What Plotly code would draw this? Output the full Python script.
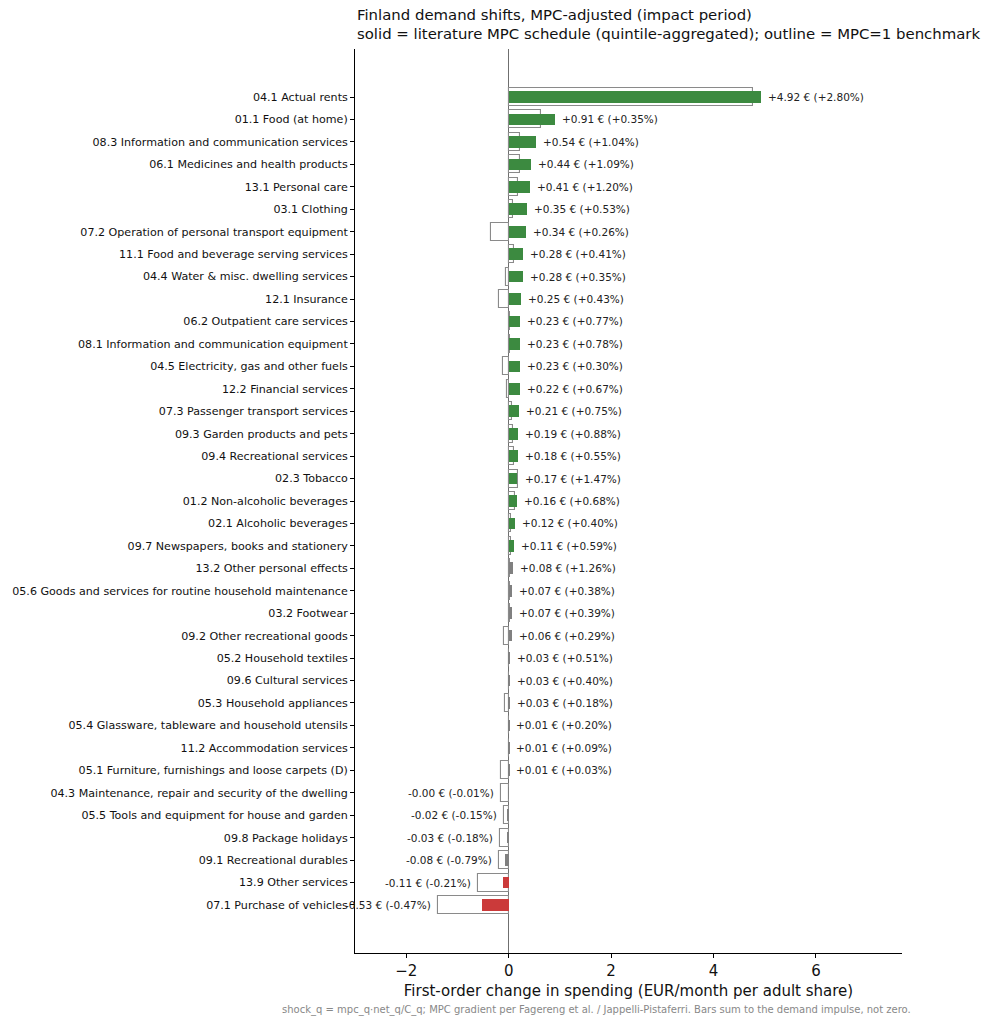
import plotly.graph_objects as go

categories = [
    "04.1 Actual rents",
    "01.1 Food (at home)",
    "08.3 Information and communication services",
    "06.1 Medicines and health products",
    "13.1 Personal care",
    "03.1 Clothing",
    "07.2 Operation of personal transport equipment",
    "11.1 Food and beverage serving services",
    "04.4 Water & misc. dwelling services",
    "12.1 Insurance",
    "06.2 Outpatient care services",
    "08.1 Information and communication equipment",
    "04.5 Electricity, gas and other fuels",
    "12.2 Financial services",
    "07.3 Passenger transport services",
    "09.3 Garden products and pets",
    "09.4 Recreational services",
    "02.3 Tobacco",
    "01.2 Non-alcoholic beverages",
    "02.1 Alcoholic beverages",
    "09.7 Newspapers, books and stationery",
    "13.2 Other personal effects",
    "05.6 Goods and services for routine household maintenance",
    "03.2 Footwear",
    "09.2 Other recreational goods",
    "05.2 Household textiles",
    "09.6 Cultural services",
    "05.3 Household appliances",
    "05.4 Glassware, tableware and household utensils",
    "11.2 Accommodation services",
    "05.1 Furniture, furnishings and loose carpets (D)",
    "04.3 Maintenance, repair and security of the dwelling",
    "05.5 Tools and equipment for house and garden",
    "09.8 Package holidays",
    "09.1 Recreational durables",
    "13.9 Other services",
    "07.1 Purchase of vehicles",
]

# MPC-adjusted (solid) change, EUR/month
mpc_eur = [4.92, 0.91, 0.54, 0.44, 0.41, 0.35, 0.34, 0.28, 0.28, 0.25,
           0.23, 0.23, 0.23, 0.22, 0.21, 0.19, 0.18, 0.17, 0.16, 0.12,
           0.11, 0.08, 0.07, 0.07, 0.06, 0.03, 0.03, 0.03, 0.01, 0.01,
           0.01, -0.004, -0.02, -0.03, -0.08, -0.11, -0.53]

# percent change
mpc_pct = [2.80, 0.35, 1.04, 1.09, 1.20, 0.53, 0.26, 0.41, 0.35, 0.43,
           0.77, 0.78, 0.30, 0.67, 0.75, 0.88, 0.55, 1.47, 0.68, 0.40,
           0.59, 1.26, 0.38, 0.39, 0.29, 0.51, 0.40, 0.18, 0.20, 0.09,
           0.03, -0.01, -0.15, -0.18, -0.79, -0.21, -0.47]

# MPC=1 benchmark (outline)
bench_eur = [4.77, 0.64, 0.23, 0.22, 0.19, 0.08, -0.34, 0.10, -0.05, -0.19,
             0.03, 0.03, -0.12, -0.03, 0.07, 0.08, 0.10, 0.18, 0.12, 0.05,
             0.04, 0.02, 0.02, 0.02, -0.09, 0.01, 0.01, -0.07, 0.00, 0.00,
             -0.15, -0.15, -0.09, -0.16, -0.18, -0.60, -1.37]

GREEN = "#3c8a40"
RED = "#cb3a3a"
GREY = "#808080"


def bar_color(v):
    if v >= 0.1:
        return GREEN
    if v <= -0.1:
        return RED
    return GREY


FONT = "DejaVu Sans"
fig = go.Figure()

fig.add_trace(go.Bar(
    y=categories, x=bench_eur, orientation="h", width=0.8,
    marker=dict(color="rgba(0,0,0,0)", line=dict(color="#8a8a8a", width=1.1)),
    hoverinfo="skip", showlegend=False,
))
fig.add_trace(go.Bar(
    y=categories, x=mpc_eur, orientation="h", width=0.52,
    marker=dict(color=[bar_color(v) for v in mpc_eur], line=dict(width=0)),
    showlegend=False,
))

annotations = []
for c, v, p, b in zip(categories, mpc_eur, mpc_pct, bench_eur):
    txt = f"{v:+.2f} € ({p:+.2f}%)"
    if v >= 0:
        annotations.append(dict(x=max(v, b), y=c, xref="x", yref="y", text=txt,
                                showarrow=False, xanchor="left", xshift=5,
                                font=dict(family=FONT, size=10.5, color="#222")))
    else:
        annotations.append(dict(x=min(v, b), y=c, xref="x", yref="y", text=txt,
                                showarrow=False, xanchor="right", xshift=-5,
                                font=dict(family=FONT, size=10.5, color="#222")))

annotations.append(dict(
    x=0, y=1, xref="paper", yref="paper", xanchor="left", yanchor="bottom",
    align="left", yshift=4, showarrow=False,
    text="Finland demand shifts, MPC-adjusted (impact period)<br>"
         "solid = literature MPC schedule (quintile-aggregated); outline = MPC=1 benchmark",
    font=dict(family=FONT, size=14.9, color="#111"),
))
annotations.append(dict(
    x=0.442, y=-0.063, xref="paper", yref="paper", xanchor="center", yanchor="middle",
    showarrow=False,
    text="shock_q = mpc_q·net_q/C_q; MPC gradient per Fagereng et al. / Jappelli-Pistaferri. "
         "Bars sum to the demand impulse, not zero.",
    font=dict(family=FONT, size=10, color="#888"),
))

fig.update_layout(
    width=989, height=1024,
    margin=dict(l=355, r=87, t=49, b=71),
    barmode="overlay",
    plot_bgcolor="white", paper_bgcolor="white",
    font=dict(family=FONT, color="#111"),
    annotations=annotations,
    bargap=0,
)
fig.update_xaxes(
    range=[-3.0, 7.68], tickvals=[-2, 0, 2, 4, 6],
    showgrid=False, zeroline=True, zerolinecolor="#6f6f6f", zerolinewidth=1,
    showline=True, linecolor="black", linewidth=1,
    ticks="outside", ticklen=4, tickcolor="black",
    tickfont=dict(family=FONT, size=15, color="#111"),
    title=dict(text="First-order change in spending (EUR/month per adult share)",
               font=dict(family=FONT, size=15, color="#111"), standoff=6),
)
fig.update_yaxes(
    type="category", range=[38.14, -2.14],
    showgrid=False, zeroline=False,
    showline=True, linecolor="black", linewidth=1,
    ticks="outside", ticklen=4, tickcolor="black",
    tickfont=dict(family=FONT, size=11.1, color="#111"),
)

fig.write_html("out.html", config={"displayModeBar": False},
               post_script="document.body.style.margin='0px';")
